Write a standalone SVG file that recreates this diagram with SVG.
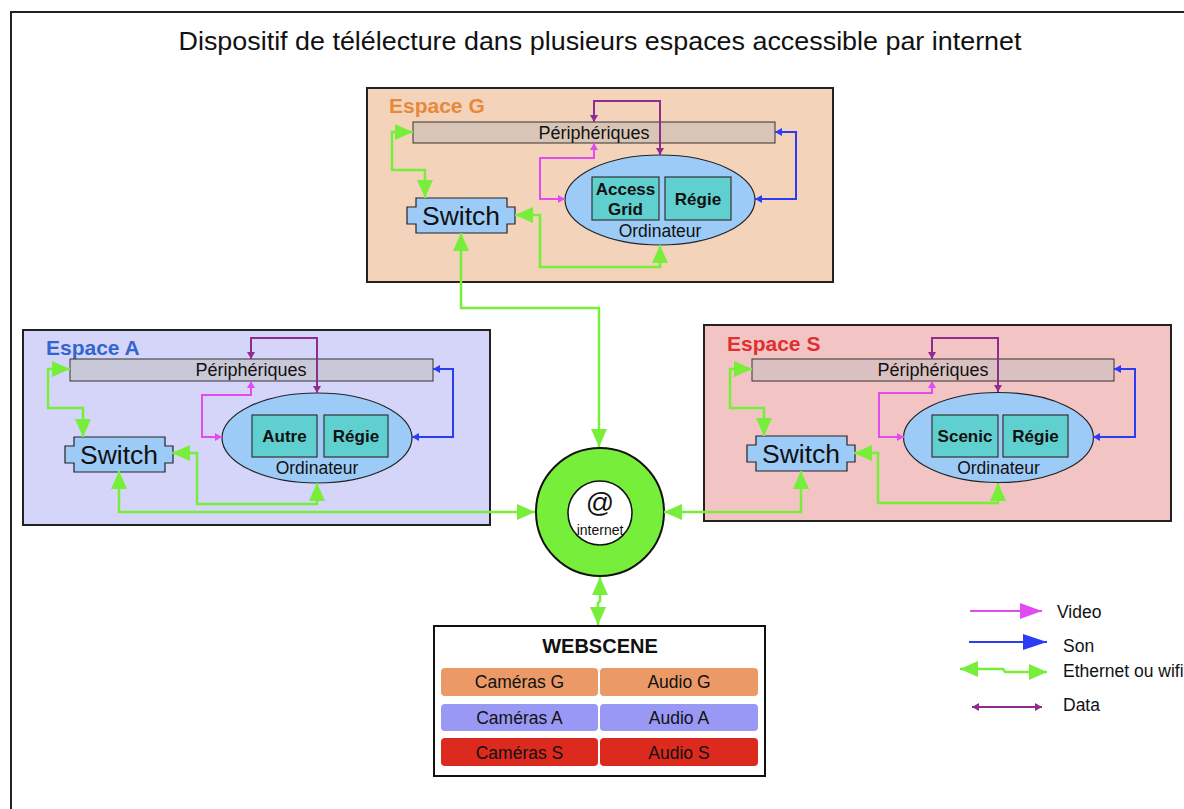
<svg xmlns="http://www.w3.org/2000/svg" width="1184" height="809" viewBox="0 0 1184 809">
<defs>
<style>
text{font-family:"Liberation Sans",Arial,sans-serif;fill:#111}
.sp{stroke:#222;stroke-width:2}
.per{stroke:#333;stroke-width:1}
.pt{font-size:18px;text-anchor:middle}
.sw{fill:#9DCBF7;stroke:#222;stroke-width:1.2}
.swt{font-size:26.5px;text-anchor:middle}
.ell{fill:#9DCBF7;stroke:#222;stroke-width:1.2}
.ib{fill:#5FCFCF;stroke:#333;stroke-width:1.2}
.ibt{font-size:17px;font-weight:bold;text-anchor:middle}
.ot{font-size:17.5px;text-anchor:middle}
.lbl{font-size:21px;font-weight:bold}
.g{fill:none;stroke:#77EE3A;stroke-width:2.5;marker-start:url(#mg);marker-end:url(#mg)}
.d{fill:none;stroke:#8E2D8E;stroke-width:2;marker-start:url(#md);marker-end:url(#md)}
.v{fill:none;stroke:#E14CF0;stroke-width:2;marker-start:url(#mv);marker-end:url(#mv)}
.b{fill:none;stroke:#2A3DF5;stroke-width:2;marker-start:url(#mb);marker-end:url(#mb)}
.wt{font-size:17.5px;text-anchor:middle}
.lt{font-size:17.5px}
</style>
<marker id="mg" markerUnits="userSpaceOnUse" markerWidth="18" markerHeight="16" refX="18" refY="8" orient="auto-start-reverse"><path d="M0,0 L18,8 L0,16 Z" fill="#77EE3A"/></marker>
<marker id="md" markerUnits="userSpaceOnUse" markerWidth="7" markerHeight="8" refX="7" refY="4" orient="auto-start-reverse"><path d="M0,0 L7,4 L0,8 Z" fill="#8E2D8E"/></marker>
<marker id="mv" markerUnits="userSpaceOnUse" markerWidth="7" markerHeight="8" refX="7" refY="4" orient="auto-start-reverse"><path d="M0,0 L7,4 L0,8 Z" fill="#E14CF0"/></marker>
<marker id="mb" markerUnits="userSpaceOnUse" markerWidth="7" markerHeight="8" refX="7" refY="4" orient="auto-start-reverse"><path d="M0,0 L7,4 L0,8 Z" fill="#2A3DF5"/></marker>
<marker id="mvL" markerUnits="userSpaceOnUse" markerWidth="22" markerHeight="16" refX="22" refY="8" orient="auto"><path d="M0,0 L22,8 L0,16 Z" fill="#E14CF0"/></marker>
<marker id="mbL" markerUnits="userSpaceOnUse" markerWidth="24" markerHeight="16" refX="24" refY="8" orient="auto"><path d="M0,0 L24,8 L0,16 Z" fill="#2A3DF5"/></marker>
<path id="switch" d="M9,0 H100 V9 H108 V26 H100 V35 H9 V26 H0 V9 H9 Z"/>
</defs>
<rect width="1184" height="809" fill="#fff"/>
<path d="M11,815 V12 H1190" fill="none" stroke="#222" stroke-width="2"/>
<text x="600" y="50" font-size="25" text-anchor="middle" textLength="843" lengthAdjust="spacingAndGlyphs">Dispositif de télélecture dans plusieurs espaces accessible par internet</text>

<g id="espace-g">
<rect x="367" y="88" width="466" height="194" fill="#F3D4BB" class="sp"/>
<text x="389" y="113" class="lbl" style="fill:#E8883A">Espace G</text>
</g>
<g id="espace-a">
<rect x="23" y="330" width="467" height="195" fill="#D5D5F9" class="sp"/>
<text x="46" y="355" class="lbl" style="fill:#3366CC">Espace A</text>
</g>
<g id="espace-s">
<rect x="704" y="325" width="467" height="196" fill="#F2C4C4" class="sp"/>
<text x="727" y="351" class="lbl" style="fill:#E03030">Espace S</text>
</g>

<g id="periph-g"><rect x="413" y="122" width="362" height="21" fill="#D9C5B6" class="per"/><text x="594" y="139" class="pt">Périphériques</text></g>
<g id="periph-a"><rect x="70" y="359" width="363" height="22" fill="#C9C8D8" class="per"/><text x="251" y="376" class="pt">Périphériques</text></g>
<g id="periph-s"><rect x="752" y="359" width="362" height="22" fill="#DAC0C0" class="per"/><text x="933" y="376" class="pt">Périphériques</text></g>

<g id="switch-g"><use href="#switch" x="407" y="198" class="sw"/><text x="461" y="225" class="swt">Switch</text></g>
<g id="switch-a"><use href="#switch" x="65" y="437" class="sw"/><text x="119" y="464" class="swt">Switch</text></g>
<g id="switch-s"><use href="#switch" x="747" y="436" class="sw"/><text x="801" y="463" class="swt">Switch</text></g>

<g id="ordinateur-g">
<ellipse cx="660" cy="200" rx="95" ry="45" class="ell"/>
<rect x="592" y="177" width="67" height="43" class="ib"/>
<text x="625.5" y="195" class="ibt">Access</text><text x="625.5" y="215" class="ibt">Grid</text>
<rect x="665" y="177" width="66" height="43" class="ib"/>
<text x="698" y="205" class="ibt">Régie</text>
<text x="660" y="237" class="ot">Ordinateur</text>
</g>
<g id="ordinateur-a">
<ellipse cx="317" cy="438" rx="95" ry="45" class="ell"/>
<rect x="252" y="415" width="65" height="42" class="ib"/>
<text x="284.5" y="442" class="ibt">Autre</text>
<rect x="324" y="415" width="64" height="42" class="ib"/>
<text x="356" y="442" class="ibt">Régie</text>
<text x="317" y="474" class="ot">Ordinateur</text>
</g>
<g id="ordinateur-s">
<ellipse cx="998.5" cy="437.5" rx="95" ry="45" class="ell"/>
<rect x="932" y="415" width="66" height="42" class="ib"/>
<text x="965" y="442" class="ibt">Scenic</text>
<rect x="1003" y="415" width="65" height="42" class="ib"/>
<text x="1035.5" y="442" class="ibt">Régie</text>
<text x="998.5" y="474" class="ot">Ordinateur</text>
</g>

<g id="internet">
<circle cx="600" cy="512" r="64" fill="#77EE3A" stroke="#111" stroke-width="2"/>
<circle cx="600" cy="513" r="32" fill="#fff" stroke="#111" stroke-width="1.5"/>
<text x="600" y="512" font-size="28" text-anchor="middle">@</text>
<text x="600" y="535" font-size="14" text-anchor="middle">internet</text>
</g>

<g id="webscene">
<rect x="434" y="626" width="331" height="150" fill="#fff" stroke="#111" stroke-width="2"/>
<text x="600" y="653" font-size="20" font-weight="bold" text-anchor="middle">WEBSCENE</text>
<rect x="441" y="668" width="157" height="28" rx="4" fill="#EB9966"/>
<rect x="600" y="668" width="158" height="28" rx="4" fill="#EB9966"/>
<rect x="441" y="704" width="157" height="27" rx="4" fill="#9999F5"/>
<rect x="600" y="704" width="158" height="27" rx="4" fill="#9999F5"/>
<rect x="441" y="738" width="157" height="28" rx="4" fill="#DD2A1E"/>
<rect x="600" y="738" width="158" height="28" rx="4" fill="#DD2A1E"/>
<text x="519.5" y="688" class="wt">Caméras G</text><text x="679" y="688" class="wt">Audio G</text>
<text x="519.5" y="724" class="wt">Caméras A</text><text x="679" y="724" class="wt">Audio A</text>
<text x="519.5" y="759" class="wt">Caméras S</text><text x="679" y="759" class="wt">Audio S</text>
</g>

<g id="connectors">
<path class="d" d="M594,122 V101 H660 V155"/>
<path class="v" d="M594,143 V158 H540 V199 H565"/>
<path class="b" d="M775,132 H796 V199 H755"/>
<path class="g" d="M413,132 H392 V170 H425 V198"/>
<path class="g" d="M515,215 H540 V267 H660 V245"/>
<path class="g" d="M461,233 V308 H599 V447"/>

<path class="d" d="M251,359 V338 H317 V393"/>
<path class="v" d="M251,381 V395 H202 V437 H222"/>
<path class="b" d="M433,369 H453 V437 H412"/>
<path class="g" d="M70,369 H48 V408 H83 V437"/>
<path class="g" d="M172,453 H197 V504 H317 V483"/>
<path class="g" d="M119,471 V512 H535"/>

<path class="d" d="M932,359 V338 H998 V392"/>
<path class="v" d="M932,381 V393 H879 V437 H904"/>
<path class="b" d="M1114,369 H1135 V437 H1093"/>
<path class="g" d="M752,369 H730 V408 H764 V436"/>
<path class="g" d="M854,453 H878 V503 H998 V483"/>
<path class="g" d="M801,471 V512 H664"/>

<path class="g" d="M600,577 V601 L598,603 V625"/>
</g>

<g id="legend">
<path d="M970,611 H1042" stroke="#E14CF0" stroke-width="2" marker-end="url(#mvL)"/>
<text x="1057" y="618" class="lt">Video</text>
<path d="M969,642 H1047" stroke="#2A3DF5" stroke-width="2" marker-end="url(#mbL)"/>
<text x="1063" y="652" class="lt">Son</text>
<path class="g" d="M960,669 H1003 L1005,672 H1047"/>
<text x="1063" y="677" class="lt">Ethernet ou wifi</text>
<path class="d" d="M972,707 H1042"/>
<text x="1063" y="711" class="lt">Data</text>
</g>
</svg>
